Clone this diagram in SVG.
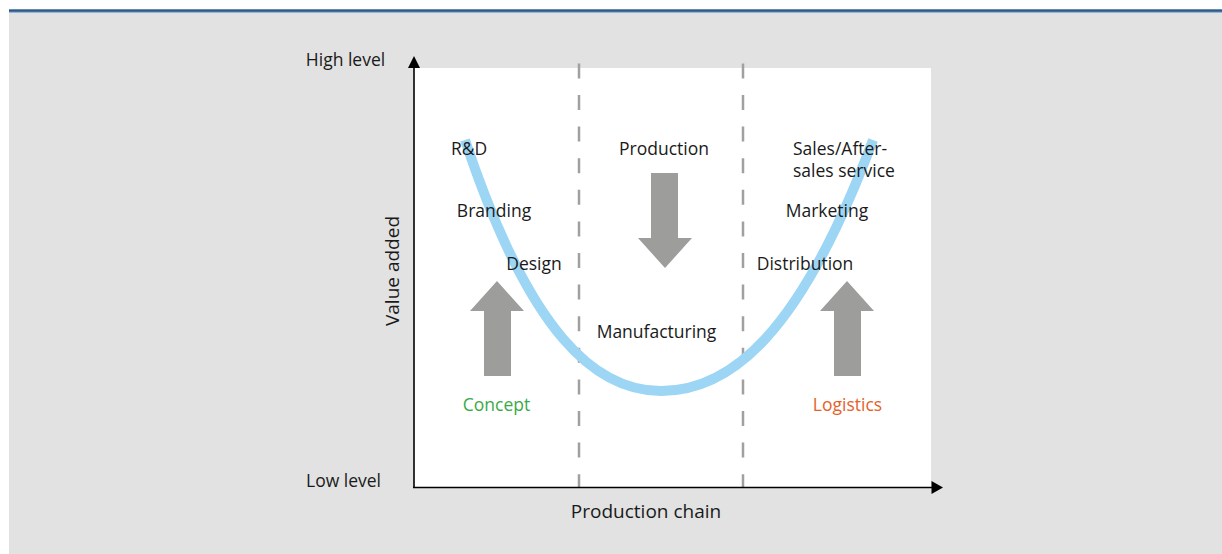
<svg xmlns="http://www.w3.org/2000/svg" width="1222" height="554" viewBox="0 0 1222 554">
<style>
  .t { font-family: "Open Sans", "Noto Sans", sans-serif; font-size: 17.5px; fill: #1a1a1a; }
  .m { text-anchor: middle; }
  .big { font-size: 19px; }
  .arrow { fill: #9d9d9c; }
  .dash { stroke: #a0a0a0; stroke-width: 2.5; stroke-dasharray: 15 16.6; fill: none; }
  .axis { stroke: #000; stroke-width: 1.6; fill: none; }
</style>
<rect x="0" y="0" width="1222" height="554" fill="#ffffff"/>
<rect x="9" y="12" width="1213" height="542" fill="#e2e2e2"/>
<rect x="9" y="9.3" width="1213" height="2.6" fill="#2b5a8c"/>
<rect x="9" y="11.9" width="1213" height="1" fill="#8fb0d0"/>
<g id="plot-area">
  <rect x="414" y="68" width="517" height="420" fill="#ffffff"/>
</g>
<g id="connectors">
  <line class="dash" x1="579" y1="63.4" x2="579" y2="488"/>
  <line class="dash" x1="743" y1="63.4" x2="743" y2="488"/>
  <line class="axis" x1="414" y1="66" x2="414" y2="488"/>
  <polygon points="414,56 408,68 420,68" fill="#000"/>
  <line class="axis" x1="413" y1="487.5" x2="933" y2="487.5"/>
  <polygon points="943,487.5 931.5,481 931.5,494" fill="#000"/>
  <path d="M 465 140 C 530 335, 596 391, 661 391 C 730 391, 800 335, 873 140" fill="none" stroke="#9dd5f4" stroke-width="10"/>
</g>
<g id="axis-labels">
  <text class="t m" x="345.5" y="66">High level</text>
  <text class="t m" x="343.5" y="487">Low level</text>
  <text class="t m big" x="646" y="518">Production chain</text>
  <text class="t m big" transform="translate(399,271) rotate(-90)" x="0" y="0" font-weight="500">Value added</text>
</g>
<g id="node-concept">
  <polygon class="arrow" points="497,281 524,311 511,311 511,376 484,376 484,311 470,311"/>
  <text class="t m" x="496.5" y="411" style="fill:#3aaa48">Concept</text>
</g>
<g id="node-production">
  <polygon class="arrow" points="651,173 678,173 678,238 692,238 665,268 638,238 651,238"/>
</g>
<g id="node-logistics">
  <polygon class="arrow" points="847,281 874,311 861,311 861,376 834,376 834,311 820,311"/>
  <text class="t m" x="847.5" y="411" style="fill:#e5602b">Logistics</text>
</g>
<g id="labels-left">
  <text class="t m" x="469" y="155">R&amp;D</text>
  <text class="t m" x="494" y="217">Branding</text>
  <text class="t m" x="534" y="270">Design</text>
</g>
<g id="labels-middle">
  <text class="t m" x="664" y="155">Production</text>
  <text class="t m" x="656.5" y="338">Manufacturing</text>
</g>
<g id="labels-right">
  <text class="t" x="793" y="155">Sales/After-</text>
  <text class="t" x="793" y="177">sales service</text>
  <text class="t m" x="827" y="217">Marketing</text>
  <text class="t m" x="805" y="270">Distribution</text>
</g>
</svg>
